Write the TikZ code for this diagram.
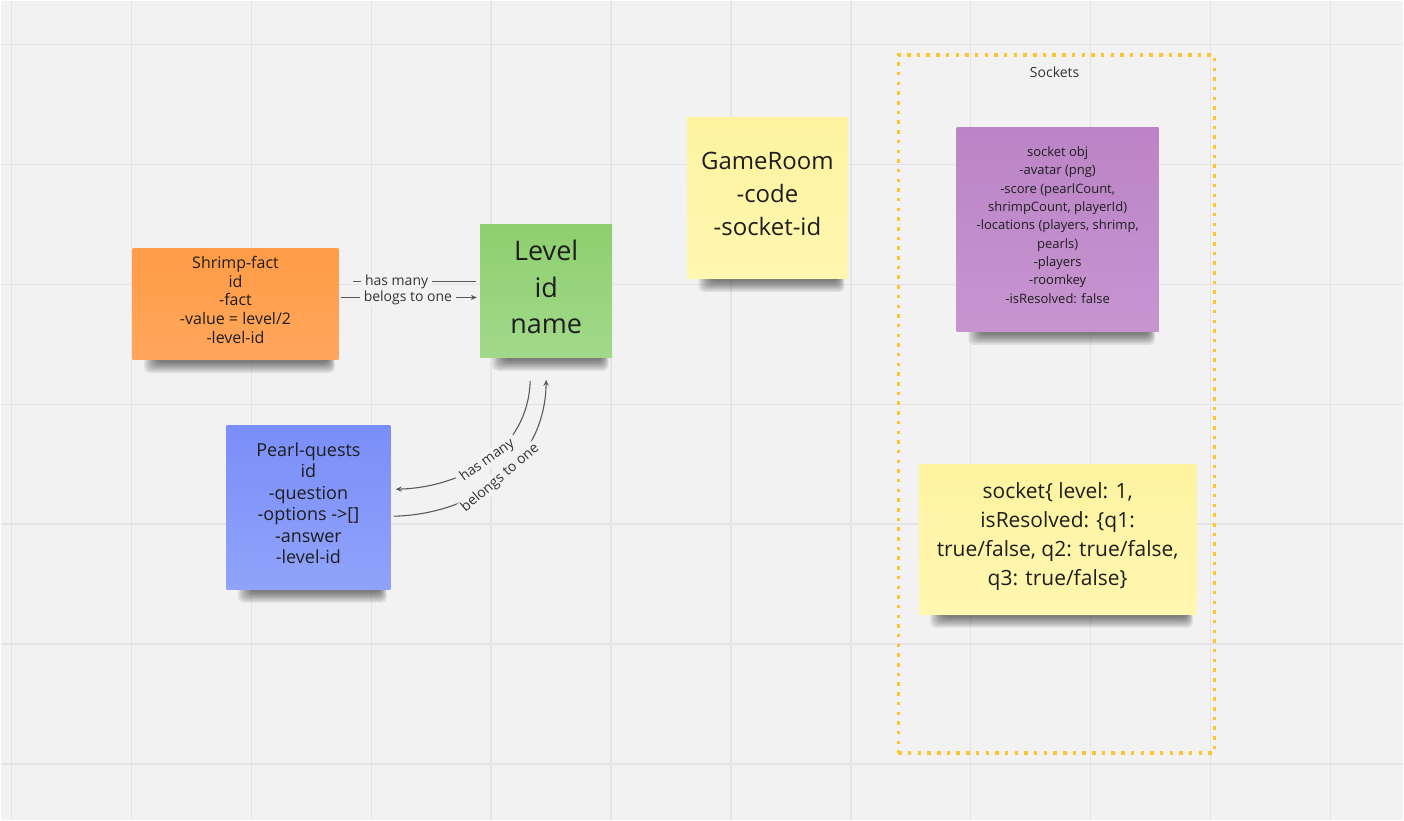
\documentclass[tikz,border=0pt]{standalone}
\usepackage{fontspec}
\setmainfont{Open Sans}
\usetikzlibrary{arrows.meta}
\pgfdeclarelayer{bg}
\pgfdeclarelayer{shadow}
\pgfsetlayers{bg,shadow,main}
\definecolor{canvas}{HTML}{F2F2F2}
\definecolor{gridc}{HTML}{E4E4E4}
\definecolor{linegray}{HTML}{5A5A5A}
\definecolor{labeltext}{HTML}{333333}
\definecolor{notetext}{HTML}{1E1E1E}
\definecolor{orangeT}{HTML}{FF9C46}
\definecolor{orangeB}{HTML}{FFA65C}
\definecolor{greenT}{HTML}{8ECF6F}
\definecolor{greenB}{HTML}{A2D98A}
\definecolor{yellowT}{HTML}{FDF3A0}
\definecolor{yellowB}{HTML}{FFF7B0}
\definecolor{blueT}{HTML}{7A8EF9}
\definecolor{blueB}{HTML}{90A3FA}
\definecolor{purpleT}{HTML}{BB84C6}
\definecolor{purpleB}{HTML}{C794D0}
\definecolor{frameyellow}{HTML}{FDC52F}
\newcommand\notesh[1]{%
  \begin{pgfonlayer}{shadow}
  \foreach \k in {0,...,6}
    \fill[black,opacity=0.085,rounded corners=2.5pt]
      ([shift={(12+2*\k,-20)}]#1.south west) rectangle ([shift={(-4-\k,13-1.7*\k)}]#1.south east);
  \end{pgfonlayer}}
\begin{document}
\begin{tikzpicture}[x=0.5pt,y=-0.5pt,
  notebox/.style={inner sep=0pt},
  notetxt/.style={inner sep=0pt, align=center, text=notetext},
  conn/.style={draw=linegray, line width=0.55pt},
  tip/.style={-{Stealth[length=3pt,width=2.6pt]}},
  lbl/.style={fill=canvas, inner xsep=2pt, inner ysep=0.6pt, text=labeltext, font=\fontsize{7}{8}\selectfont},
  gridline/.style={draw=gridc, line width=0.75pt}]
\begin{pgfonlayer}{bg}
  \fill[canvas] (0,0) rectangle (1404,820);
  \foreach \x in {11,131,...,1331} \draw[gridline] (\x,0) -- (\x,820);
  \foreach \y in {44,164,...,764} \draw[gridline] (0,\y) -- (1404,\y);
\end{pgfonlayer}
\useasboundingbox (0,0) rectangle (1404,820);

% frame
\node[draw=frameyellow, line width=1.75pt, dash pattern=on 1.75pt off 3.1pt,
      minimum width=158.25pt, minimum height=349.25pt, inner sep=0pt] (frame) at (1056.75,403.75) {};
\node[text=labeltext, font=\fontsize{7}{8}\selectfont] (socklbl) at (1055,72) {Sockets};

% note boxes
\node[notebox, top color=orangeT, bottom color=orangeB, minimum width=103pt, minimum height=55.5pt] (shrimp) at (235,303.5) {};
\node[notebox, top color=greenT, bottom color=greenB, minimum width=66pt, minimum height=66.5pt] (lvl) at (546,290.5) {};
\node[notebox, top color=yellowT, bottom color=yellowB, minimum width=80.5pt, minimum height=80.5pt] (game) at (767.5,197.5) {};
\node[notebox, top color=blueT, bottom color=blueB, minimum width=82pt, minimum height=82pt] (pearl) at (308,507) {};
\node[notebox, top color=purpleT, bottom color=purpleB, minimum width=101pt, minimum height=102pt] (sockobj) at (1058,229) {};
\node[notebox, top color=yellowT, bottom color=yellowB, minimum width=139pt, minimum height=75pt] (sockstate) at (1058,539) {};

% note texts
\node[notetxt, font=\fontsize{8}{9.5}\selectfont] (shrimptxt) at ([yshift=2pt]shrimp.center)
  {Shrimp-fact\\id\\-fact\\-value = level/2\\-level-id};
\node[notetxt, font=\fontsize{13.5}{18.2}\selectfont] (lvltxt) at ([yshift=2pt]lvl.center)
  {Level\\id\\name};
\node[notetxt, font=\fontsize{12}{16.5}\selectfont] (gametxt) at ([yshift=2pt]game.center)
  {GameRoom\\-code\\-socket-id};
\node[notetxt, font=\fontsize{9}{10.8}\selectfont] (pearltxt) at ([yshift=2pt]pearl.center)
  {Pearl-quests\\id\\-question\\-options ->[]\\-answer\\-level-id};
\node[notetxt, font=\fontsize{6.5}{9.2}\selectfont] (sockobjtxt) at ([yshift=2.3pt]sockobj.center)
  {socket obj\\-avatar (png)\\-score (pearlCount,\\shrimpCount, playerId)\\-locations (players, shrimp,\\pearls)\\-players\\-roomkey\\-isResolved: false};
\node[notetxt, font=\fontsize{10.5}{14.5}\selectfont] (sockstatetxt) at ([yshift=1.5pt]sockstate.center)
  {socket\{ level: 1,\\isResolved: \{q1:\\true/false, q2: true/false,\\q3: true/false\}};

\notesh{shrimp}
\notesh{lvl}
\notesh{game}
\notesh{pearl}
\notesh{sockobj}
\notesh{sockstate}

% connectors
\coordinate (yA) at (0,281);
\coordinate (yB) at (0,297);
\draw[conn, shorten <=2pt, shorten >=7pt] (lvl.west |- yA) -- node[lbl, pos=0.59] {has many} (shrimp.east |- yA);
\draw[conn, tip, shorten <=1pt, shorten >=1.5pt] (shrimp.east |- yB) -- node[lbl, pos=0.49] {belogs to one} (lvl.west |- yB);

\draw[conn, tip] ([shift={(-16,23)}]lvl.south) .. controls +(-2,70) and +(67,-2) .. ([shift={(5,-18)}]pearl.east)
  node[lbl, sloped, pos=0.5] {has many};
\draw[conn, tip] ([shift={(3,9)}]pearl.east) .. controls +(82,-2) and +(-1,83) .. ([shift={(0,22)}]lvl.south)
  node[lbl, sloped, pos=0.5] {belongs to one};
\end{tikzpicture}
\end{document}
